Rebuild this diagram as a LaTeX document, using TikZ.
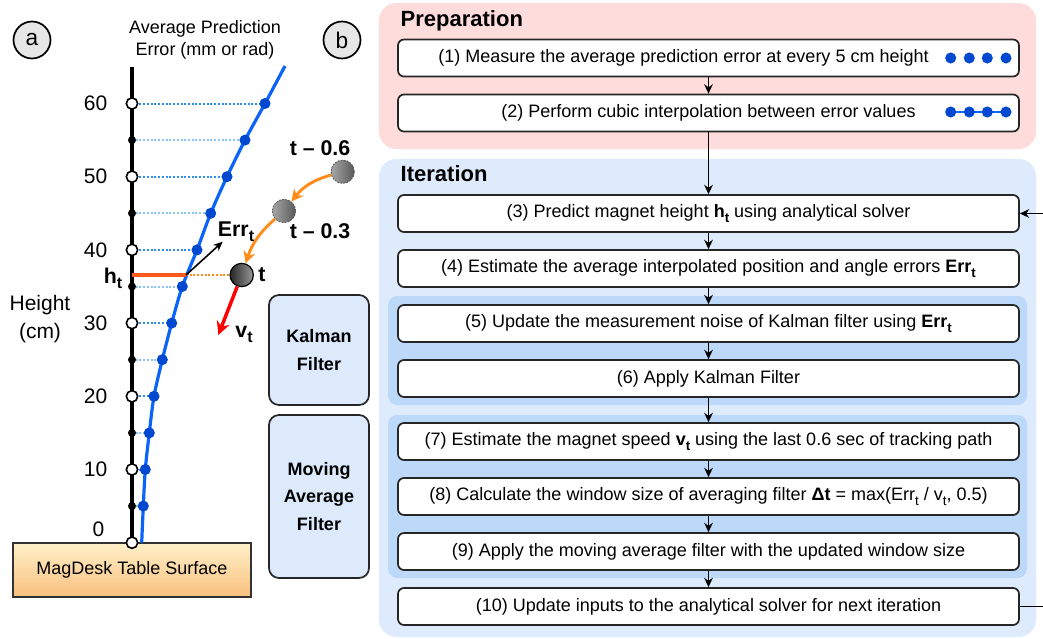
\documentclass[tikz,border=0pt]{standalone}
\usepackage{fontspec}
\setmainfont{Liberation Sans}
\usetikzlibrary{arrows.meta,shapes.geometric}
\newcommand\mysub[2]{\raisebox{-0.45ex}{\fontsize{#1}{#1}\selectfont #2}}
\definecolor{prepfill}{HTML}{FDDCDB}
\definecolor{iterfill}{HTML}{DEEBFC}
\definecolor{grpfill}{HTML}{BCD9FA}
\definecolor{sidefill}{HTML}{DCEAFC}
\definecolor{curveblue}{HTML}{0A64FA}
\definecolor{dotfill}{HTML}{0048D0}
\definecolor{dotblue}{HTML}{2E8EF0}
\definecolor{dotlight}{HTML}{8CC4FA}
\definecolor{tabletop}{HTML}{FFF0C8}
\definecolor{tablebot}{HTML}{F9C07E}
\definecolor{htred}{HTML}{FF5A1E}
\definecolor{orarr}{HTML}{FF8C1A}
\definecolor{circgray}{HTML}{E6E6E6}
\begin{document}
\begin{tikzpicture}[x=0.75pt,y=-0.75pt,
  stepbox/.style={draw=black!85, line width=1.3pt, fill=white, rounded corners=4.5pt,
    minimum width=465.75pt, minimum height=27.75pt, inner sep=0pt,
    font=\fontsize{13.5}{16}\selectfont},
  flow/.style={-{Stealth[length=7pt,width=6.5pt]}, line width=1.1pt, black},
  sidebox/.style={draw=black!85, line width=1.3pt, fill=sidefill, rounded corners=7.5pt,
    minimum width=75pt, align=center, inner sep=0pt,
    font=\bfseries\fontsize{13.5}{20.5}\selectfont},
  groupbox/.style={rounded corners=13pt, inner sep=0pt},
  grpinner/.style={fill=grpfill, rounded corners=7pt, inner sep=0pt,
    minimum width=479.25pt},
  title/.style={anchor=west, font=\bfseries\fontsize{16.5}{18}\selectfont},
  tick/.style={anchor=east, font=\fontsize{15.75}{18}\selectfont},
  bigbold/.style={font=\bfseries\fontsize{16}{18}\selectfont},
  openc/.style={circle, draw=black, line width=1.2pt, fill=white, minimum size=8.5pt, inner sep=0pt},
  blackc/.style={circle, fill=black, minimum size=6pt, inner sep=0pt},
  bluec/.style={circle, fill=dotfill, minimum size=8.3pt, inner sep=0pt},
  dotdk/.style={draw=dotblue, line width=1.5pt, dash pattern=on 1.5pt off 1.3pt},
  dotlt/.style={draw=dotlight, line width=1.5pt, dash pattern=on 1.5pt off 1.3pt},
  ball/.style={circle, minimum size=17.5pt, inner sep=0pt},
  pastball/.style={ball, draw=black!65, line width=0.6pt, dash pattern=on 1.4pt off 0.9pt,
    left color=black!35, right color=black!65},
  letterc/.style={circle, draw=black, line width=1.3pt, fill=circgray, minimum size=27.75pt,
    inner sep=0pt, font=\fontsize{17}{18}\selectfont}
]
\useasboundingbox (0,0) rectangle (1043,639);

% ---------------- panel (b): flow chart ----------------
\node[groupbox, fill=prepfill, minimum width=492.75pt, minimum height=109.5pt] (prep) at (707.5,76) {};
\node[groupbox, fill=iterfill, minimum width=492.75pt, minimum height=358.5pt] (iter) at (707.5,398) {};
\node[grpinner, minimum height=81.75pt] (kgrp) at (707.5,350.5) {};
\node[grpinner, minimum height=122.25pt] (mgrp) at (707.5,496.5) {};
\node[title] (tprep) at (396,21) {Preparation};
\node[title] (titer) at (396,174) {Iteration};

\node[stepbox] (b1) at (708.5,58) {(1) Measure the average prediction error at every 5 cm height\hspace*{37.5pt}};
\node[stepbox] (b2) at (708.5,113) {(2) Perform cubic interpolation between error values};
\node[stepbox] (b3) at (708.5,213.5) {(3) Predict magnet height \textbf{h}\mysub{10}{\textbf{t}} using analytical solver};
\node[stepbox] (b4) at (708.5,268.5) {(4) Estimate the average interpolated position and angle errors \textbf{Err}\mysub{10}{\textbf{t}}};
\node[stepbox] (b5) at (708.5,323.5) {(5) Update the measurement noise of Kalman filter using \textbf{Err}\mysub{10}{\textbf{t}}};
\node[stepbox] (b6) at (708.5,378.5) {(6) Apply Kalman Filter};
\node[stepbox] (b7) at (708.5,441.5) {(7) Estimate the magnet speed \textbf{v}\mysub{10}{\textbf{t}} using the last 0.6 sec of tracking path};
\node[stepbox] (b8) at (708.5,496.5) {(8) Calculate the window size of averaging filter \textbf{Δt} = max(Err\mysub{10}{t} / v\mysub{10}{t}, 0.5)};
\node[stepbox] (b9) at (708.5,551.5) {(9) Apply the moving average filter with the updated window size};
\node[stepbox] (b10) at (708.5,606.5) {(10) Update inputs to the analytical solver for next iteration};

\foreach \a/\b in {b1/b2,b2/b3,b3/b4,b4/b5,b5/b6,b6/b7,b7/b8,b8/b9,b9/b10}
  \draw[flow] (\a.south) -- (\b.north);
\draw[flow] (b10.east) -- ++(40,0) |- (b3.east);

% dots in boxes 1 and 2
\foreach \xx [count=\i] in {950.7,969.3,987.3,1006}
  \node[bluec] (pa\i) at (\xx,58) {};
\draw[curveblue, line width=1.8pt] (950.7,112) -- (1006,112);
\foreach \xx [count=\i] in {950.7,969.3,987.3,1006}
  \node[bluec] (pb\i) at (\xx,112) {};

% ---------------- side boxes ----------------
\node[sidebox, minimum height=82.5pt] (kal) at (319,350) {Kalman\\Filter};
\node[sidebox, minimum height=122.25pt] (mav) at (319,496.5) {Moving\\Average\\Filter};

% ---------------- panel (a) ----------------
\node[letterc] (ca) at (32,40) {a};
\node[letterc] (cb) at (342,40) {b};
\node[align=center, font=\fontsize{13.5}{16.5}\selectfont] (ytitle) at (205,40) {Average Prediction\\Error (mm or rad)};
\node[align=center, font=\fontsize{15.75}{21}\selectfont] (hlab) at (40,319) {Height\\(cm)};

\node[draw=black!80, line width=1pt, top color=tabletop, bottom color=tablebot,
  minimum width=178.5pt, minimum height=40.5pt, inner sep=0pt,
  font=\fontsize{13.5}{16}\selectfont] (table) at (132,570) {MagDesk Table Surface};

% dotted guide lines
\foreach \yy/\xx/\st in {103.5/265/dotdk,140.1/245/dotlt,176.7/227/dotdk,213.3/210.7/dotlt,
  249.9/197/dotdk,286.5/182.3/dotlt,323.1/171.7/dotdk,359.7/162.3/dotlt,396.3/154/dotdk,
  432.9/149.3/dotlt,469.5/145.3/dotdk,506.1/143.3/dotlt}
  \draw[\st] (132,\yy) -- (\xx,\yy);

% axis
\draw[line width=2.7pt, black] (132,67) -- (132,542.7);

% error curve
\draw[curveblue, line width=2.4pt] plot[smooth, tension=0.5] coordinates {(141.7,542.7) (143.3,506.1) (145.3,469.5) (149.3,432.9) (154,396.3) (162.3,359.7) (171.7,323.1) (182.3,286.5) (197,249.9) (210.7,213.3) (227,176.7) (245,140.1) (265,103.5) (285,66)};
\foreach \yy/\xx in {103.5/265,140.1/245,176.7/227,213.3/210.7,249.9/197,286.5/182.3,
  323.1/171.7,359.7/162.3,396.3/154,432.9/149.3,469.5/145.3,506.1/143.3}
  \node[bluec] at (\xx,\yy) {};

% h_t line
\coordinate (hx) at (186,275);
\coordinate (ha) at (132,275);
\coordinate (errtip) at (222.7,241.7);
\coordinate (vtip) at (218.3,335);
\node[ball, draw=black, line width=0.9pt, left color=black!85, right color=black!40] (m0) at (241.7,275) {};
\node[pastball] (m3) at (284,211) {};
\node[pastball] (m6) at (342.7,171.7) {};
\draw[htred, line width=2.6pt] (ha) -- (hx);
\draw[orarr, line width=1.5pt, dash pattern=on 1.5pt off 1.3pt] (hx) -- (m0.west);
\draw[-{Stealth[length=7pt,width=6pt]}, line width=1.2pt] (hx) -- (errtip);
\draw[orarr, line width=2.2pt, -{Stealth[length=9pt,width=9pt]}] (m6) to[bend right=18] (m3);
\draw[orarr, line width=2.2pt, -{Stealth[length=9pt,width=9pt]}] (m3) to[bend right=15] (m0);
\draw[red, line width=2.6pt, -{Stealth[length=10pt,width=10pt]}] (m0) -- (vtip);

% axis ticks
\foreach \yy in {103.5,176.7,249.9,323.1,396.3,469.5,542.7}
  \node[openc] at (132,\yy) {};
\foreach \yy in {140.1,213.3,286.5,359.7,432.9,506.1}
  \node[blackc] at (132,\yy) {};

% tick labels
\node[tick] (l60) at (112,103.5) {60};
\node[tick] (l50) at (112,176.7) {50};
\node[tick] (l40) at (112,249.9) {40};
\node[tick] (l30) at (112,323.1) {30};
\node[tick] (l20) at (112,396.3) {20};
\node[tick] (l10) at (112,469.5) {10};
\node[tick] (l0) at (109,529) {0};

% labels
\node[bigbold, anchor=east] (htl) at (127,278) {h\mysub{12}{t}};
\node[bigbold] (errl) at (236,232) {Err\mysub{12}{t}};
\node[bigbold] (tl) at (262,275) {t};
\node[bigbold] (t6) at (320,148) {t -- 0.6};
\node[bigbold] (t3) at (320,231) {t -- 0.3};
\node[bigbold] (vl) at (244,334) {v\mysub{12}{t}};
\end{tikzpicture}
\end{document}
